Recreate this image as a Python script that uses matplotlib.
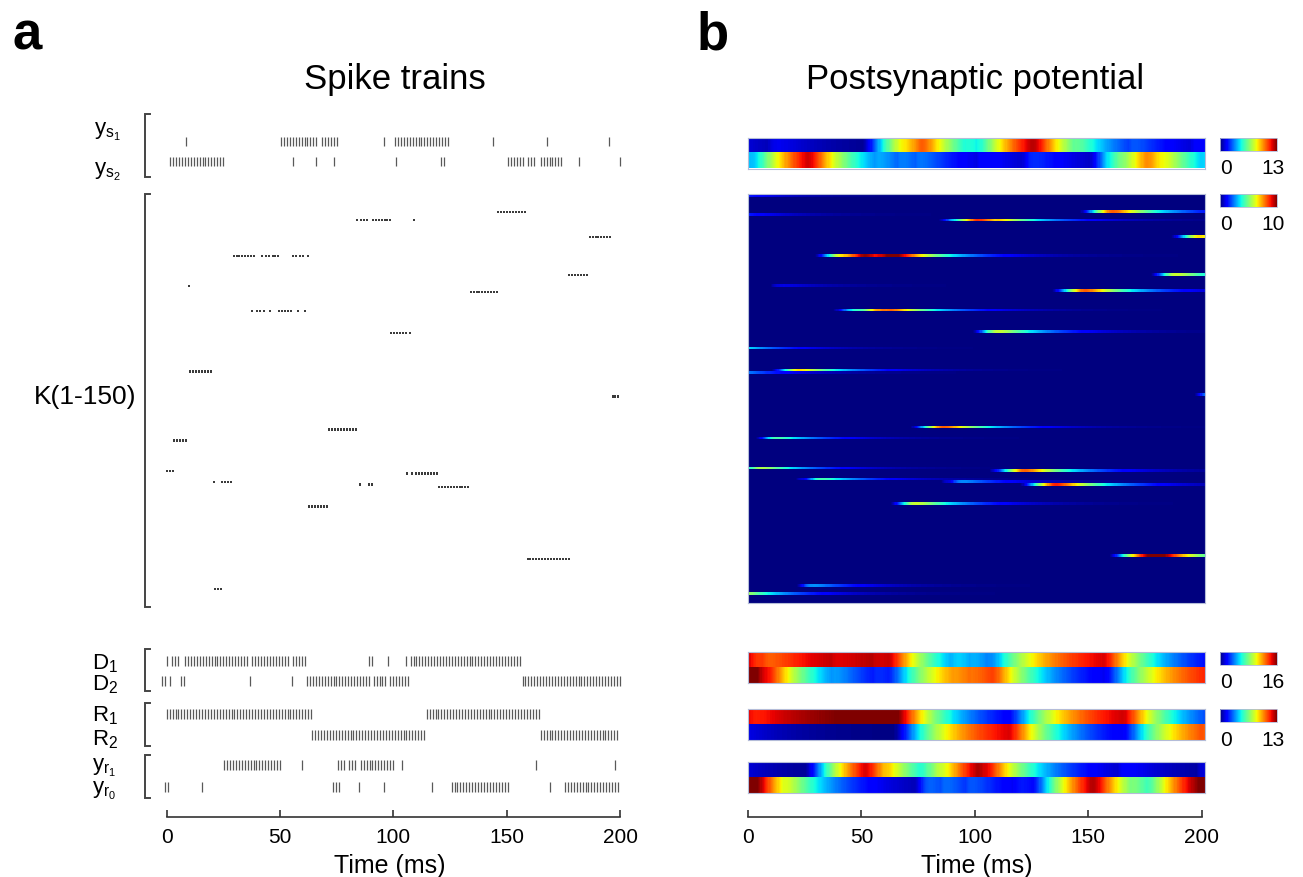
import numpy as np
import matplotlib
matplotlib.use("Agg")
from matplotlib import pyplot as plt

plt.rcParams['font.family'] = ['Liberation Sans', 'DejaVu Sans']
plt.rcParams['mathtext.fontset'] = 'custom'
plt.rcParams['mathtext.rm'] = 'Liberation Sans'
plt.rcParams['mathtext.it'] = 'Liberation Sans:italic'

W, H = 1303, 878

# spike trains: runs of spikes as (first, last) in ms,
# a single spike has first == last
ys1 = [(8.7, 8.7), (50.4, 67.2), (68.5, 75.3), (95.7, 95.7), (100.7, 124.2),
       (143.8, 143.8), (167.9, 167.9), (195, 195)]
ys2 = [(1.5, 25.3), (55.9, 55.9), (65.7, 65.7), (73.8, 73.8), (101, 101),
       (120.9, 122.8), (150.7, 158), (159.6, 163.4), (165, 174.2), (182, 182),
       (200, 200)]
d1 = [(0, 0), (2.5, 5.6), (8.1, 36.4), (37.8, 54.4), (55.7, 61.5), (89.2, 90.7),
      (97.8, 97.8), (105.6, 105.6), (107.6, 156.9)]
d2 = [(-2, -0.7), (1.6, 1.6), (6.3, 8.1), (36.9, 36.9), (55.1, 55.1), (61.9, 89.4),
      (91.3, 97), (98.6, 107.3), (157, 200)]
r1 = [(0, 64.2), (114.7, 164.7)]
r2 = [(64.2, 114.4), (165, 200)]
yr1 = [(25.3, 50.1), (59.8, 59.8), (75.6, 79.4), (80.4, 84.1), (85.6, 100.3),
       (103.9, 103.9), (162.9, 162.9), (197.9, 197.9)]
yr0 = [(-0.7, 0.7), (15.7, 15.7), (73.5, 76.2), (84.8, 84.8), (95.9, 95.9),
       (117, 117), (125.7, 150.4), (168.9, 168.9), (175.7, 182.3), (183.5, 200)]

# K neurons (150), only the rows that fire
k_rows = [6, 9, 15, 22, 29, 33, 35, 42, 50, 64, 73, 85, 89, 100, 101, 104, 105,
          106, 113, 132, 143]
k_runs = [
    [(146.3, 159.2)],
    [(83.9, 83.9), (85.7, 88.8), (90.9, 98.8), (109, 109)],
    [(186.6, 196.3)],
    [(29.5, 37.5), (38.7, 38.7), (41.9, 41.9), (43.7, 45.3), (46.7, 49.6),
     (55.7, 57.3), (59, 60.4), (62.2, 62.2)],
    [(177.5, 186.4)],
    [(9.8, 9.8)],
    [(134.1, 146.3)],
    [(37.6, 37.6), (39.7, 41.2), (42.8, 42.8), (45.7, 45.7), (49.7, 55.6),
     (57.9, 57.9), (61.2, 61.2)],
    [(98.9, 105.9), (107.5, 107.5)],
    [(10.3, 20.3)],
    [(196.7, 200)],
    [(71.7, 83.8)],
    [(3.4, 9.3)],
    [(0.3, 3.2)],
    [(106.2, 106.2), (108.4, 108.4), (110.1, 120)],
    [(20.9, 20.9), (24.5, 29.5)],
    [(85.1, 85.1), (89.1, 90.7)],
    [(120.1, 134.1)],
    [(62.8, 71.7)],
    [(159.2, 177.5)],
    [(21.4, 24.5)],
]
# potential carried over from before t = 0
k_init_rows = [0, 7, 56, 65, 100, 146]
k_init_vals = [1.5, 1.5, 3.5, 2.5, 4.0, 5.5]
ys_init = [1.0, 4.3]
d_init = [15.0, 17.0]
r_init = [12.0, 1.2]
yr_init = [1.0, 14.0]

# colour scale maxima shown on the colourbars
ys_max, k_max, d_max, r_max, yr_max = 13, 10, 16, 13, 13

ISI = 1.3
TAU, TAU_S = 22.0, 2.5
t_peak = np.log(TAU / TAU_S) * TAU * TAU_S / (TAU - TAU_S)
KNORM = np.exp(-t_peak / TAU) - np.exp(-t_peak / TAU_S)
t_grid = np.arange(0, 201.5, 0.5) + 0.25


def spikes(runs):
    return np.concatenate([np.arange(a, b + 0.01, ISI) for a, b in runs])


def psp(train, v0, w):
    v = v0 * np.exp(-t_grid / TAU)
    for s in train:
        d = t_grid - s
        m = d >= 0
        v[m] += w * (np.exp(-d[m] / TAU) - np.exp(-d[m] / TAU_S)) / KNORM
    return v


def rect(x0, y0, x1, y1):
    return [x0 / W, 1 - y1 / H, (x1 - x0) / W, (y1 - y0) / H]


fig = plt.figure(figsize=(W / 100, H / 100), dpi=100)

# ---------------- panel a: spike trains ----------------
LX0, LX1 = 166.7, 620.0          # pixel of t = 0 and t = 200
AX_L, AX_R = 150, 630
xlim_a = ((AX_L - LX0) / (LX1 - LX0) * 200, (AX_R - LX0) / (LX1 - LX0) * 200)


def bracket(ax):
    s = 4.5 / (AX_R - AX_L)
    bx = -5.0 / (AX_R - AX_L)
    ax.plot([bx + s, bx, bx, bx + s], [1, 1, 0, 0], transform=ax.transAxes,
            color='#444444', lw=1.4, clip_on=False, solid_joinstyle='miter')


def raster_pair(trains, y0, y1, ylim, length):
    ax = fig.add_axes(rect(AX_L, y0, AX_R, y1))
    ax.eventplot([spikes(tr) for tr in trains], lineoffsets=[0, 1],
                 linelengths=length, colors='0.35', linewidths=0.9)
    ax.set_xlim(*xlim_a)
    ax.set_ylim(*ylim)
    ax.axis('off')
    bracket(ax)
    return ax


raster_pair([ys1, ys2], 115, 178, (1.785, -1.365), 0.42)
raster_pair([d1, d2], 650, 692.3, (1.485, -0.568), 0.5)
raster_pair([r1, r2], 704.3, 746.7, (1.53, -0.517), 0.5)
raster_pair([yr1, yr0], 755.7, 799, (1.52, -0.475), 0.48)

ax_k = fig.add_axes(rect(AX_L, 195, AX_R, 608))
ax_k.eventplot([spikes(r) for r in k_runs], lineoffsets=np.array(k_rows) + 0.5,
               linelengths=0.85, colors='0.15', linewidths=1.3)
ax_k.set_xlim(*xlim_a)
ax_k.set_ylim(150, 0)
ax_k.axis('off')
bracket(ax_k)


def time_axis(x0, x1, xlim):
    ax = fig.add_axes(rect(x0, 817, x1, 818))
    for side in ['top', 'left', 'right']:
        ax.spines[side].set_visible(False)
    ax.spines['bottom'].set_bounds(0, 200)
    ax.spines['bottom'].set_color('#333333')
    ax.spines['bottom'].set_linewidth(1.2)
    ax.set_xlim(*xlim)
    ax.set_yticks([])
    ax.set_xticks([0, 50, 100, 150, 200])
    ax.tick_params(axis='x', direction='in', length=5, width=1.2, color='#333333',
                   labelsize=15, pad=7)
    ax.patch.set_visible(False)
    ax.set_xlabel('Time (ms)', fontsize=18, labelpad=5)
    return ax


time_axis(AX_L, AX_R, xlim_a)

labels_a = [(r'$\mathregular{y_{s_1}}$', 94, 135), (r'$\mathregular{y_{s_2}}$', 94, 175),
            (r'$\mathregular{D_1}$', 92, 669), (r'$\mathregular{D_2}$', 92, 690),
            (r'$\mathregular{R_1}$', 92, 721), (r'$\mathregular{R_2}$', 92, 745),
            (r'$\mathregular{y_{r_1}}$', 92, 771), (r'$\mathregular{y_{r_0}}$', 92, 794)]
for txt, x, y in labels_a:
    fig.text(x / W, 1 - y / H, txt, fontsize=16, ha='left', va='baseline')
fig.text(85 / W, 1 - 397 / H, 'K(1-150)', fontsize=19, ha='center', va='center')

fig.text(395 / W, 1 - 89 / H, 'Spike trains', fontsize=25, ha='center', va='baseline')
fig.text(12 / W, 1 - 50 / H, 'a', fontsize=38, fontweight='bold', va='baseline')

# ---------------- panel b: postsynaptic potential ----------------
HX0, HX1 = 748, 1205
cmap = plt.cm.jet
edge = '#b4bcd8'


def heat(rows, y0, y1, vmax):
    ax = fig.add_axes(rect(HX0, y0, HX1, y1))
    im = ax.imshow(rows, aspect='auto', cmap=cmap, vmin=0, vmax=vmax,
                   extent=[0, 201.5, len(rows), 0], interpolation='nearest')
    ax.set_xticks([])
    ax.set_yticks([])
    for sp in ax.spines.values():
        sp.set_color(edge)
        sp.set_linewidth(0.8)
    return ax, im


def cbar(im, y0, vmax):
    cax = fig.add_axes(rect(1220, y0, 1277, y0 + 13))
    cb = fig.colorbar(im, cax=cax, orientation='horizontal', ticks=[])
    cb.outline.set_edgecolor(edge)
    cb.outline.set_linewidth(0.6)
    fig.text(1226 / W, 1 - (y0 + 30) / H, '0', fontsize=15, ha='center', va='center')
    fig.text(1273 / W, 1 - (y0 + 30) / H, str(vmax), fontsize=15, ha='center',
             va='center')


ys_map = np.array([psp(spikes(ys1), ys_init[0], 0.75), psp(spikes(ys2), ys_init[1], 0.75)])
_, im = heat(ys_map, 139, 169.5, ys_max)
cbar(im, 139, ys_max)

k_map = np.zeros((150, len(t_grid)))
for r, v0 in zip(k_init_rows, k_init_vals):
    k_map[r] = psp([], v0, 0)
for r, runs in zip(k_rows, k_runs):
    k_map[r] += psp(spikes(runs), 0, 0.9)
_, im = heat(k_map, 195, 604, k_max)
cbar(im, 195, k_max)

d_map = np.array([psp(spikes(d1), d_init[0], 0.72), psp(spikes(d2), d_init[1], 0.72)])
_, im = heat(d_map, 653, 684, d_max)
cbar(im, 653, d_max)

r_map = np.array([psp(spikes(r1), r_init[0], 0.6), psp(spikes(r2), r_init[1], 0.6)])
_, im = heat(r_map, 710, 740.5, r_max)
cbar(im, 710, r_max)

yr_map = np.array([psp(spikes(yr1), yr_init[0], 0.8), psp(spikes(yr0), yr_init[1], 0.8)])
heat(yr_map, 763, 793.5, yr_max)

time_axis(HX0, HX1, (0, 201.5))

fig.text(975 / W, 1 - 89 / H, 'Postsynaptic potential', fontsize=25, ha='center',
         va='baseline')
fig.text(697 / W, 1 - 50 / H, 'b', fontsize=38, fontweight='bold', va='baseline')

fig.savefig('out.png', dpi=100)
